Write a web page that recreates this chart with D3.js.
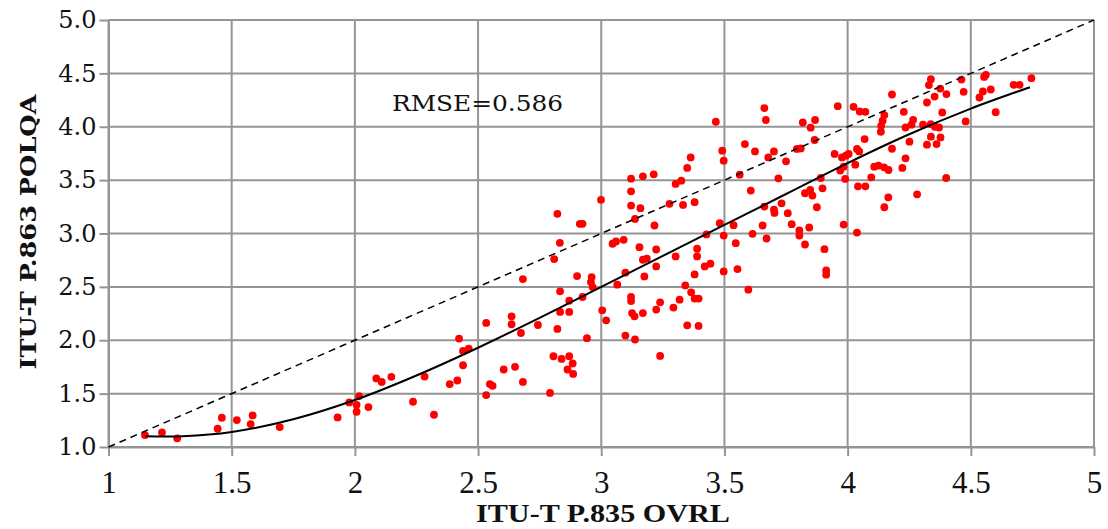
<!DOCTYPE html>
<html>
<head>
<meta charset="utf-8">
<script src="https://cdn.jsdelivr.net/npm/d3@7"></script>
<style>
  html, body { margin: 0; padding: 0; background: #fff; }
  svg { display: block; }
</style>
</head>
<body>
<svg id="chart" width="1108" height="529"></svg>
<script>
// ---- data ----
const ovrl = [
  1.148,1.217,1.279,1.443,1.460,1.521,1.585,1.577,1.695,1.930,1.977,
  2.007,2.007,2.017,2.055,2.087,2.109,2.148,2.236,2.283,2.321,2.385,2.416,2.423,2.439,2.462,2.439,
  2.533,2.533,2.548,2.559,2.604,2.636,2.636,2.650,2.674,2.682,
  2.809,2.682,2.902,2.961,2.958,2.965,3.098,3.065,2.833,2.870,2.924,3.121,3.121,3.125,3.135,3.169,
  2.743,2.833,2.870,2.822,3.004,3.020,2.942,3.098,3.137,2.806,2.839,2.870,2.884,2.863,2.886,2.792,
  3.363,3.491,3.497,3.349,3.121,3.169,3.213,3.325,3.302,3.562,3.121,2.999,3.121,3.159,3.277,3.332,
  3.379,3.137,3.216,3.481,3.537,3.497,3.546,3.553,3.497,3.427,3.046,3.060,3.091,3.155,3.223,3.389,
  3.389,3.302,3.169,3.185,3.223,3.420,3.443,3.175,3.379,3.341,3.365,3.379,3.395,3.239,3.223,3.318,
  3.293,3.349,3.395,3.239,
  3.662,3.668,3.960,4.024,4.049,3.818,3.868,3.850,3.866,3.583,3.624,3.701,3.678,3.750,3.794,3.810,
  3.719,3.947,3.977,3.993,4.004,3.970,3.984,4.031,4.038,3.990,4.042,3.891,3.898,3.607,3.827,3.848,
  3.857,3.875,3.732,3.662,3.701,3.703,3.757,3.655,3.773,3.844,3.804,3.804,3.614,3.671,3.984,4.038,
  3.827,3.906,3.913,3.913,3.597,
  4.338,4.330,4.462,4.561,4.554,4.746,4.674,4.698,4.376,4.401,4.353,4.471,4.549,4.535,4.581,4.180,
  4.322,4.601,4.072,4.149,4.142,4.136,4.135,4.228,4.266,4.259,4.235,4.306,4.337,4.354,4.371,4.384,
  4.479,4.338,4.377,4.322,4.361,4.251,4.069,4.047,4.180,4.108,4.125,4.148,4.166,4.222,4.235,4.096,
  4.072,4.400,4.165,4.149,4.282,
  3.465,2.822,2.913,2.924,2.832
];
const polqa = [
  1.112,1.137,1.081,1.171,1.274,1.252,1.296,1.215,1.187,1.277,1.418,
  1.330,1.395,1.477,1.374,1.642,1.610,1.657,1.424,1.660,1.302,1.589,1.623,2.016,1.900,1.922,1.766,
  2.162,1.486,1.589,1.573,1.726,2.224,2.150,1.751,2.068,1.610,
  2.760,2.573,2.601,2.592,2.545,2.498,2.633,2.521,2.458,2.371,2.405,2.405,2.367,2.255,2.224,2.255,
  2.143,2.265,2.265,2.106,2.280,2.187,2.019,2.044,2.007,1.850,1.825,1.850,1.782,1.726,1.685,1.507,
  3.713,3.776,3.682,3.614,3.514,3.536,3.554,3.495,3.464,3.551,3.395,3.315,3.262,3.237,3.278,3.268,
  3.293,3.137,3.075,3.096,3.078,2.981,2.909,2.667,2.645,2.991,2.904,2.925,2.941,2.872,2.850,2.857,
  2.785,2.785,2.754,2.764,2.692,2.692,2.717,2.598,2.617,2.514,2.449,2.390,2.390,2.355,2.287,2.380,
  2.306,2.140,2.134,1.853,
  4.175,4.063,4.193,4.187,4.143,4.040,4.063,3.991,3.876,3.838,3.769,3.769,3.713,3.676,3.792,3.797,
  3.517,3.745,3.713,3.729,3.745,3.589,3.626,3.645,3.792,3.511,3.442,3.520,3.423,3.402,3.377,3.408,
  3.355,3.246,3.283,3.252,3.224,3.193,3.190,3.075,3.087,3.056,3.028,2.981,2.997,2.953,3.084,3.009,
  2.897,2.853,2.654,2.614,2.474,
  4.446,4.390,4.442,4.486,4.467,4.455,4.393,4.393,4.358,4.306,4.283,4.327,4.330,4.274,4.349,4.302,
  4.227,4.137,4.140,4.109,4.056,4.009,3.953,4.140,4.065,4.019,3.993,4.019,4.025,4.000,3.993,4.134,
  4.050,3.907,3.900,3.832,3.838,3.860,3.885,3.769,3.794,3.626,3.636,3.620,3.595,3.614,3.704,3.526,
  3.442,3.520,3.339,3.246,3.367,
  4.047,3.184,3.091,3.091,2.913
];
// fitted mapping curve
const fitX = [1.15,1.30,1.50,1.75,2.00,2.25,2.50,2.75,3.00,3.25,3.50,3.75,4.00,4.25,4.50,4.74];
const fitY = [1.10,1.10,1.14,1.26,1.44,1.67,1.93,2.21,2.50,2.79,3.08,3.37,3.66,3.93,4.17,4.37];
// identity reference line
const refX = [1, 5];
const refY = [1, 5];
const xTicks = [1,1.5,2,2.5,3,3.5,4,4.5,5];
const yTicks = [1,1.5,2,2.5,3,3.5,4,4.5,5];
const xTitle = "ITU-T P.835 OVRL";
const yTitle = "ITU-T P.863 POLQA";
const note = "RMSE=0.586";

// ---- drawing ----
const svg = d3.select("#chart");
svg.append("rect").attr("width",1108).attr("height",529).attr("fill","#fff");

const x = d3.scaleLinear().domain([1,5]).range([108.5,1094]);
const y = d3.scaleLinear().domain([1,5]).range([447,20]);
const gridColor = "#959595";

// grid
const grid = svg.append("g");
grid.selectAll("line.v").data(xTicks).join("line")
  .attr("x1",d=>x(d)).attr("x2",d=>x(d)).attr("y1",y(1)).attr("y2",y(5))
  .attr("stroke",gridColor).attr("stroke-width",2);
grid.selectAll("line.h").data(yTicks).join("line")
  .attr("y1",d=>y(d)).attr("y2",d=>y(d)).attr("x1",x(1)).attr("x2",x(5))
  .attr("stroke",gridColor).attr("stroke-width",2);

// axes
const yAxis = svg.append("g").attr("transform",`translate(${x(1)},0)`)
  .call(d3.axisLeft(y).tickValues(yTicks).tickFormat(d3.format(".1f")).tickSize(9).tickSizeOuter(0).tickPadding(3));
yAxis.selectAll("line,path").attr("stroke",gridColor).attr("stroke-width",2);
yAxis.selectAll("text").attr("font-family","'DejaVu Serif', serif").attr("font-size",24).attr("fill","#111");

const xAxis = svg.append("g").attr("transform",`translate(0,${y(1)})`)
  .call(d3.axisBottom(x).tickValues(xTicks).tickFormat(d3.format("")).tickSize(9).tickSizeOuter(0).tickPadding(15));
xAxis.selectAll("line,path").attr("stroke",gridColor).attr("stroke-width",2);
xAxis.selectAll("text").attr("font-family","'Liberation Serif', serif").attr("font-size",31).attr("fill","#111");

// points
const pts = ovrl.map((v,i)=>({x:v,y:polqa[i]}));
svg.append("g").selectAll("circle").data(pts).join("circle")
  .attr("cx",d=>x(d.x)).attr("cy",d=>y(d.y)).attr("r",3.9).attr("fill","#ff0000");

// identity dashed line
const ref = refX.map((v,i)=>[v,refY[i]]);
svg.append("path").datum(ref)
  .attr("d",d3.line().x(d=>x(d[0])).y(d=>y(d[1])))
  .attr("fill","none").attr("stroke","#000").attr("stroke-width",1.5).attr("stroke-dasharray","7,5");

// fitted curve
const fit = fitX.map((v,i)=>[v,fitY[i]]);
svg.append("path").datum(fit)
  .attr("d",d3.line().curve(d3.curveCatmullRom.alpha(0.5)).x(d=>x(d[0])).y(d=>y(d[1])))
  .attr("fill","none").attr("stroke","#000").attr("stroke-width",2);

// annotation
svg.append("text").attr("x",392).attr("y",111)
  .attr("font-family","'DejaVu Serif', serif").attr("font-size",23)
  .attr("textLength",171).attr("lengthAdjust","spacingAndGlyphs").attr("fill","#111")
  .text(note);

// titles
svg.append("text").attr("x",603).attr("y",522).attr("text-anchor","middle")
  .attr("font-family","'Liberation Serif', serif").attr("font-weight","bold").attr("font-size",26)
  .attr("textLength",254).attr("lengthAdjust","spacingAndGlyphs").attr("fill","#111")
  .text(xTitle);
svg.append("text").attr("transform","translate(36,232) rotate(-90)").attr("text-anchor","middle")
  .attr("font-family","'DejaVu Serif', serif").attr("font-weight","bold").attr("font-size",22)
  .attr("textLength",275).attr("lengthAdjust","spacingAndGlyphs").attr("fill","#111")
  .text(yTitle);
</script>
</body>
</html>
